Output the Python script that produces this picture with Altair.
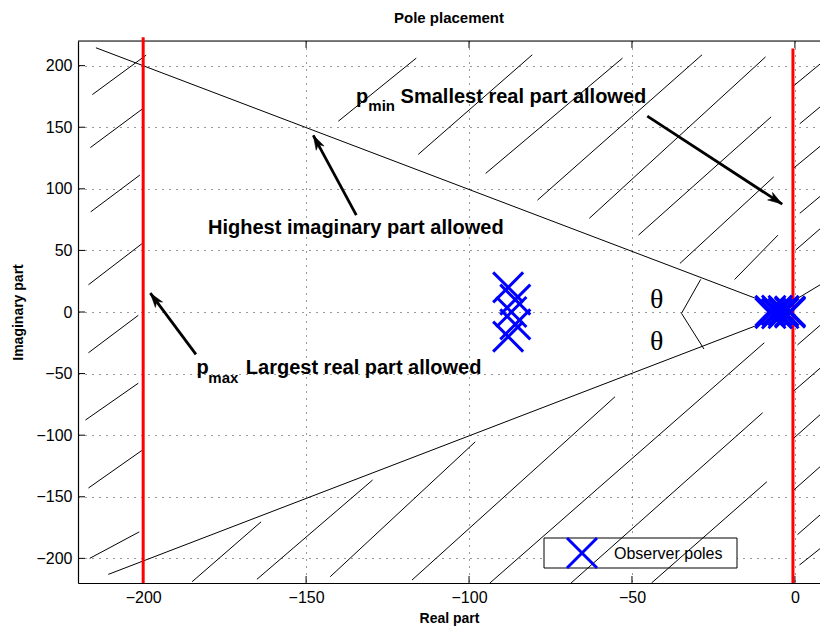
import math
import altair as alt
import pandas as pd

# ---------------- data ----------------
x_ticks = [-200, -150, -100, -50, 0]
y_ticks = [-200, -150, -100, -50, 0, 50, 100, 150, 200]

# constraint lines (p_max, p_min)
red_x = [-200.0, -0.6]
red_top = [223.0, 214.0]
red_bottom = [-220.0, -220.0]

# damping cone lines
cone_x_start = [-214.5, -210.7]
cone_y_start = [214.5, -213.0]
cone_x_end = [-1.0, -1.0]
cone_y_end = [0.0, 0.0]

# theta arc (polyline)
arc_x = [-28.9, -34.8, -27.9]
arc_y = [26.5, -1.1, -30.1]

# hatch segments of the forbidden regions
hatch_x1 = [-215.6, -216.2, -216.1, -216.8, -216.8, -217.7, -216.8, -216.4,
            -140.1, -115.6, -94.9, -79.0, -63.1, -48.0, -35.3, -18.5,
            -185.0, -165.1, -142.6, -117.5, -93.6, -68.7, -44.0,
            -0.3, 1.5, -0.3, 1.5, 0.2, 0.8, 0.8, -0.5, -0.9, -0.9, 0.8, 1.4]
hatch_y1 = [176.5, 133.5, 81.3, 22.1, -33.1, -87.7, -142.9, -200.0,
            154.9, 127.9, 112.5, 90.8, 76.0, 62.4, 39.4, 26.4,
            -219.0, -217.0, -214.9, -217.6, -220.0, -220.0, -220.0,
            183.8, 152.8, 117.0, 80.1, 50.2, 11.0, -26.7, -64.5, -103.7, -145.8, -180.7, -205.4]
hatch_x2 = [-199.1, -199.9, -201.0, -200.4, -201.5, -201.5, -200.4, -201.2,
            -116.2, -80.6, -52.9, -28.5, -9.0, -7.3, -6.5, -5.2,
            -163.8, -129.6, -98.1, -55.2, -9.4, -9.9, -8.6,
            9.0, 9.0, 9.0, 9.0, 9.0, 9.0, 9.0, 9.0, 9.0, 9.0, 9.0, 9.0]
hatch_y2 = [208.5, 165.5, 111.2, 55.4, -2.7, -57.8, -112.4, -178.5,
            206.1, 208.8, 206.1, 208.8, 207.1, 158.4, 109.7, 62.4,
            -170.3, -136.4, -105.4, -68.8, -25.0, -81.8, -137.8,
            204.1, 169.3, 137.3, 96.7, 70.5, 24.1, -7.9, -42.7, -80.4, -122.6, -161.8, -189.4]

# observer poles
pole_re = [-88.0, -88.0, -85.8, -85.8, -87.0,
           -7.5, -7.5, -5.5, -5.5, -3.5, -3.5, -1.5, -1.5]
pole_im = [20.0, -20.0, 10.0, -10.0, 0.0,
           1.0, -1.0, 1.2, -1.2, 1.0, -1.0, 0.5, -0.5]

# annotation arrows
arrow_tail_x = [-134.6, -45.3, -183.8]
arrow_tail_y = [78.7, 159.0, -34.4]
arrow_head_x = [-147.8, -3.9, -197.8]
arrow_head_y = [143.4, 87.6, 15.3]

# annotation texts
main_text = ["Highest imaginary part allowed", "Smallest real part allowed", "Largest real part allowed"]
main_text_x = [-180.1, -121.0, -168.5]
main_text_y = [63.2, 169.9, -50.4]
p_text_x = [-134.7, -183.6]
p_text_y = [169.9, -50.4]
sub_text = ["min", "max"]
sub_text_x = [-130.9, -180.0]
sub_text_y = [163.1, -58.0]
theta_x = [-42.4, -42.4]
theta_y = [9.7, -24.4]

# ---------------- layout ----------------
W, H = 742, 542
XD = [-220, 7.7]
YD = [-220, 220]
FONT = "Liberation Sans"

xs = alt.Scale(domain=XD, nice=False, zero=False)
ys = alt.Scale(domain=YD, nice=False, zero=False)
X_SHAPE = "M-1,-1L1,1M1,-1L-1,1"
ARROW_SHAPE = "M0,0L0.62,2L0,1.45L-0.62,2Z"

sx = W / (XD[1] - XD[0])
sy = H / (YD[1] - YD[0])

x_axis = alt.Axis(values=x_ticks, title="Real part", format="d", grid=True,
                  gridDash=[1, 6], gridColor="#333333", gridWidth=1, tickSize=0,
                  domainColor="black", domainWidth=1.2, labelFont=FONT, labelFontSize=16,
                  labelColor="black", labelPadding=6, titleFont=FONT, titleFontSize=14,
                  titleFontWeight="bold", titleColor="black", titleY=39,
                  titleBaseline="alphabetic")
y_axis = alt.Axis(values=y_ticks, title="Imaginary part", format="d", grid=True,
                  gridDash=[1, 6], gridColor="#333333", gridWidth=1, tickSize=0,
                  domainColor="black", domainWidth=1.2, labelFont=FONT, labelFontSize=16,
                  labelColor="black", labelPadding=6, titleFont=FONT, titleFontSize=14,
                  titleFontWeight="bold", titleColor="black", titleX=-56, titleY=H / 2,
                  titleAlign="center", titleBaseline="alphabetic", titleAngle=270)


def X(f):
    return alt.X(f, scale=xs, axis=x_axis)


def Y(f):
    return alt.Y(f, scale=ys, axis=y_axis)


hatch_df = pd.DataFrame({"x": hatch_x1, "y": hatch_y1, "x2": hatch_x2, "y2": hatch_y2})
cone_df = pd.DataFrame({"x": cone_x_start, "y": cone_y_start, "x2": cone_x_end, "y2": cone_y_end})
red_df = pd.DataFrame({"x": red_x, "y": red_bottom, "y2": red_top})
arc_df = pd.DataFrame({"x": arc_x, "y": arc_y, "o": list(range(len(arc_x)))})
pole_df = pd.DataFrame({"x": pole_re, "y": pole_im})
angles = []
for tx, ty, hx, hy in zip(arrow_tail_x, arrow_tail_y, arrow_head_x, arrow_head_y):
    dxp = (hx - tx) * sx
    dyp = -(hy - ty) * sy
    angles.append(math.degrees(math.atan2(dxp, -dyp)) % 360)
arrow_df = pd.DataFrame({"x": arrow_tail_x, "y": arrow_tail_y, "hx": arrow_head_x,
                         "hy": arrow_head_y, "angle": angles})
main_df = pd.DataFrame({"x": main_text_x, "y": main_text_y, "t": main_text})
p_df = pd.DataFrame({"x": p_text_x, "y": p_text_y, "t": ["p", "p"]})
sub_df = pd.DataFrame({"x": sub_text_x, "y": sub_text_y, "t": sub_text})
theta_df = pd.DataFrame({"x": theta_x, "y": theta_y, "t": ["θ", "θ"]})
xt_df = pd.DataFrame({"x": x_ticks})
yt_df = pd.DataFrame({"y": y_ticks})
one = pd.DataFrame({"t": ["Pole placement"]})

# axes carrier (invisible)
axes_layer = alt.Chart(pd.DataFrame({"x": [0.0], "y": [0.0]})).mark_point(opacity=0).encode(
    x=X("x:Q"), y=Y("y:Q"))

title_txt = alt.Chart(one).mark_text(font=FONT, fontSize=15, fontWeight="bold", color="black",
                                     align="center", baseline="alphabetic").encode(
    x=alt.value(W / 2), y=alt.value(-18), text="t:N")

# legend box (drawn under hatch lines)
legend_box = alt.Chart(one).mark_rect(fill="white", stroke="black", strokeWidth=1).encode(
    x=alt.value(466), x2=alt.value(659), y=alt.value(497), y2=alt.value(527))
legend_sym = alt.Chart(one).mark_point(shape=X_SHAPE, size=900, filled=False, opacity=1,
                                       stroke="#0000FF", strokeWidth=3).encode(
    x=alt.value(504), y=alt.value(512))
legend_txt = alt.Chart(one).mark_text(text="Observer poles", font=FONT, fontSize=16,
                                      align="left", baseline="alphabetic",
                                      color="black").encode(
    x=alt.value(536), y=alt.value(518))

hatch = alt.Chart(hatch_df).mark_rule(color="black", strokeWidth=1, clip=True).encode(
    x=X("x:Q"), y=Y("y:Q"), x2="x2:Q", y2="y2:Q")

cone = alt.Chart(cone_df).mark_rule(color="black", strokeWidth=1).encode(
    x=X("x:Q"), y=Y("y:Q"), x2="x2:Q", y2="y2:Q")

arc = alt.Chart(arc_df).mark_line(color="black", strokeWidth=1).encode(
    x=X("x:Q"), y=Y("y:Q"), order="o:Q")

# border pieces and inward ticks
top_border = alt.Chart(one).mark_rule(color="black", strokeWidth=1.2).encode(
    x=alt.value(0), x2=alt.value(W), y=alt.value(0))
xt_bottom = alt.Chart(xt_df).mark_rule(color="black", strokeWidth=1).encode(
    x=X("x:Q"), y=alt.value(H), y2=alt.value(H - 7))
xt_top = alt.Chart(xt_df).mark_rule(color="black", strokeWidth=1).encode(
    x=X("x:Q"), y=alt.value(0), y2=alt.value(7))
yt_left = alt.Chart(yt_df).mark_rule(color="black", strokeWidth=1).encode(
    y=Y("y:Q"), x=alt.value(0), x2=alt.value(7))

red = alt.Chart(red_df).mark_rule(color="#FF0000", strokeWidth=3, clip=False).encode(
    x=X("x:Q"), y=Y("y:Q"), y2="y2:Q")

poles = alt.Chart(pole_df).mark_point(shape=X_SHAPE, size=900, filled=False, opacity=1,
                                      stroke="#0000FF", strokeWidth=3).encode(
    x=X("x:Q"), y=Y("y:Q"))

arrow_lines = alt.Chart(arrow_df).mark_rule(color="black", strokeWidth=2.8).encode(
    x=X("x:Q"), y=Y("y:Q"), x2="hx:Q", y2="hy:Q")
arrow_heads = alt.Chart(arrow_df).mark_point(shape=ARROW_SHAPE, size=210, filled=True,
                                             fill="black", stroke="black", strokeWidth=0.5,
                                             opacity=1).encode(
    x=X("hx:Q"), y=Y("hy:Q"), angle=alt.Angle("angle:Q", scale=None))

main_txt = alt.Chart(main_df).mark_text(font=FONT, fontSize=20, fontWeight="bold",
                                        align="left", baseline="alphabetic", color="black").encode(
    x=X("x:Q"), y=Y("y:Q"), text="t:N")
p_txt = alt.Chart(p_df).mark_text(font=FONT, fontSize=20, fontWeight="bold",
                                  align="left", baseline="alphabetic", color="black").encode(
    x=X("x:Q"), y=Y("y:Q"), text="t:N")
sub_txt = alt.Chart(sub_df).mark_text(font=FONT, fontSize=15, fontWeight="bold",
                                      align="left", baseline="alphabetic", color="black").encode(
    x=X("x:Q"), y=Y("y:Q"), text="t:N")
theta_txt = alt.Chart(theta_df).mark_text(font="Liberation Serif", fontSize=28,
                                          align="center", baseline="middle", color="black").encode(
    x=X("x:Q"), y=Y("y:Q"), text="t:N")

chart = alt.layer(
    axes_layer, legend_box, legend_txt, hatch, cone, arc, top_border, xt_bottom, xt_top, yt_left,
    red, poles, legend_sym, arrow_lines, arrow_heads, main_txt, p_txt, sub_txt, theta_txt,
    title_txt,
).properties(
    width=W, height=H,
    autosize=alt.AutoSizeParams(type="none"),
    padding={"left": 78, "top": 41, "right": 0, "bottom": 44},
).configure_view(stroke=None).configure(background="white")

chart.save("out.html", embed_options={"renderer": "svg", "actions": False})
